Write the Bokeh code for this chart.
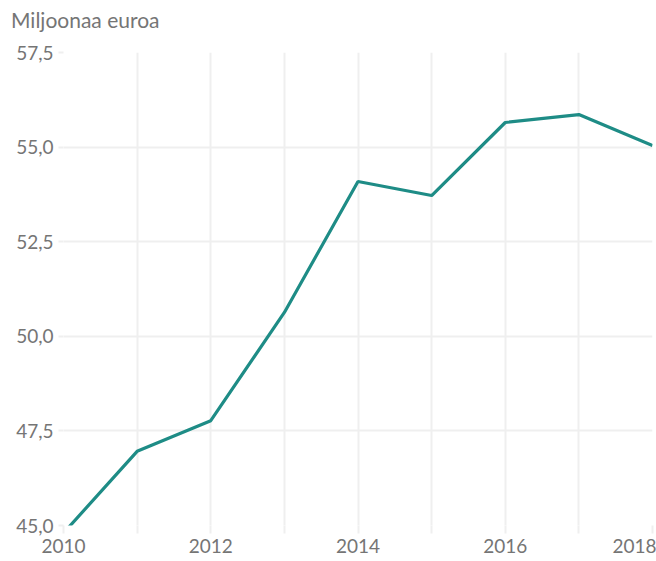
from bokeh.plotting import figure
from bokeh.models import FixedTicker, CustomJSTickFormatter, Range1d, Div
from bokeh.layouts import column
from bokeh.embed import file_html
from bokeh.resources import INLINE

years = [2010, 2011, 2012, 2013, 2014, 2015, 2016, 2017, 2018]
values = [44.8, 46.96, 47.77, 50.63, 54.09, 53.72, 55.65, 55.86, 55.04]
y_ticks = [45.0, 47.5, 50.0, 52.5, 55.0, 57.5]
unit_label = "Miljoonaa euroa"

FONT = "Lato"
GREY = "#757575"
GRID = "#efefef"

header = Div(text=unit_label, width=656, height=40, margin=(0, 0, 0, 0),
             styles={"font-family": FONT, "font-size": "21px", "color": GREY,
                     "line-height": "40px", "padding-left": "11px", "white-space": "nowrap"})

p = figure(width=656, height=521, output_backend="svg", toolbar_location=None,
           x_range=Range1d(2010, 2018), y_range=Range1d(45, 57.5),
           min_border_left=63, min_border_right=4, min_border_top=12, min_border_bottom=36)

p.line(years, values, line_color="#1e8c86", line_width=3.2)

p.outline_line_color = None
p.background_fill_color = "white"
p.border_fill_color = "white"

p.xaxis.ticker = FixedTicker(ticks=years)
p.xaxis.formatter = CustomJSTickFormatter(code="return (tick % 2 == 0) ? String(tick) : '';")
p.yaxis.ticker = FixedTicker(ticks=y_ticks)
p.yaxis.formatter = CustomJSTickFormatter(code="return tick.toFixed(1).replace('.', ',');")

for ax in (p.xaxis, p.yaxis):
    ax.axis_line_color = None
    ax.major_tick_line_color = GRID
    ax.major_tick_line_width = 2
    ax.minor_tick_line_color = None
    ax.major_tick_in = 0
    ax.major_label_text_font = FONT
    ax.major_label_text_font_size = "19px"
    ax.major_label_text_color = GREY

p.xaxis.major_tick_out = 8
p.yaxis.major_tick_out = 5
p.xaxis.major_label_standoff = 5
p.yaxis.major_label_standoff = 5
p.xaxis.major_label_text_align = "right"

p.xgrid.ticker = FixedTicker(ticks=years)
p.ygrid.ticker = FixedTicker(ticks=y_ticks)
p.grid.grid_line_color = GRID
p.grid.grid_line_width = 2

layout = column(header, p, spacing=0)
open("out.html", "w").write(file_html(layout, INLINE))
